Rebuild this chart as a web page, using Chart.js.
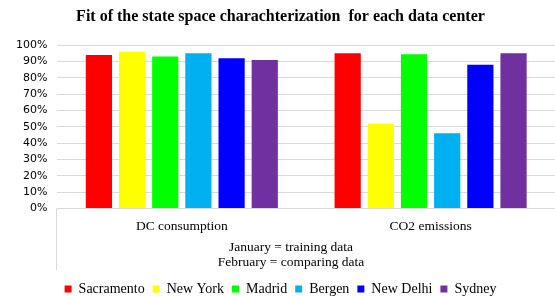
<!DOCTYPE html>
<html>
<head>
<meta charset="utf-8">
<script src="https://cdn.jsdelivr.net/npm/chart.js@4/dist/chart.umd.min.js"></script>
<style>
    html, body { margin:0; padding:0; background:#fff; }
    #wrap { width:555px; height:296px; position:relative; }
</style>
</head>
<body>
<div id="wrap"><canvas id="id_chart"></canvas></div>
<script>
// data
var CATEGORIES = ["DC consumption", "CO2 emissions"];
var CITIES = ["Sacramento", "New York", "Madrid", "Bergen", "New Delhi", "Sydney"];
var SACRAMENTO = [0.94, 0.95];
var NEW_YORK   = [0.96, 0.52];
var MADRID     = [0.93, 0.945];
var BERGEN     = [0.95, 0.46];
var NEW_DELHI  = [0.92, 0.88];
var SYDNEY     = [0.91, 0.95];
var Y_TICKS = [0, 0.1, 0.2, 0.3, 0.4, 0.5, 0.6, 0.7, 0.8, 0.9, 1.0];
var CAPTION = ["January = training data", "February = comparing data"];

var COLORS = ["#ff0000", "#ffff00", "#00ff00", "#00b0f0", "#0000ff", "#7030a0"];
var SERIF = "'Liberation Serif', 'Times New Roman', serif";

var _makeDatasets = function(){
    var values = [SACRAMENTO, NEW_YORK, MADRID, BERGEN, NEW_DELHI, SYDNEY];
    var list = [], n;
    for( n=0; n<CITIES.length; n++ ){
        list.push({
            label : CITIES[n],
            data : values[n],
            backgroundColor : COLORS[n],
            borderWidth : 0,
            barPercentage : 0.79,
            categoryPercentage : 0.8
        });
    }
    return list;
};

// excel style: small vertical line at left under the axis + caption under the labels
var axisExtras = {
    id : "axisExtras",
    afterDraw : function(chart){
        var ctx = chart.ctx;
        var area = chart.chartArea;
        ctx.save();
        ctx.strokeStyle = "#d9d9d9";
        ctx.lineWidth = 1;
        ctx.beginPath();
        ctx.moveTo(Math.round(area.left) - 0.5, area.bottom);
        ctx.lineTo(Math.round(area.left) - 0.5, 270);
        ctx.stroke();
        ctx.fillStyle = "#000";
        ctx.font = "13.5px " + SERIF;
        ctx.textAlign = "center";
        ctx.textBaseline = "middle";
        ctx.fillText(CAPTION[0], 291, 247);
        ctx.fillText(CAPTION[1], 291, 262);
        ctx.restore();
    }
};

window.onload = function(){
    var ctx = document.getElementById("id_chart").getContext("2d");
    new Chart(ctx, {
        type : "bar",
        data : {
            labels : CATEGORIES,
            datasets : _makeDatasets()
        },
        plugins : [axisExtras],
        options : {
            responsive : true,
            maintainAspectRatio : false,
            animation : false,
            layout : { padding : { left : 6, right : 0, top : 0, bottom : -10 } },
            plugins : {
                title : {
                    display : true,
                    text : "Fit of the state space charachterization  for each data center",
                    color : "#000",
                    font : { family : SERIF, size : 16, weight : "bold" },
                    padding : { top : 7, bottom : 19 }
                },
                legend : {
                    position : "bottom",
                    labels : {
                        boxWidth : 7,
                        boxHeight : 7,
                        padding : 8,
                        color : "#000",
                        font : { family : SERIF, size : 14 }
                    }
                },
                tooltip : { enabled : false }
            },
            scales : {
                x : {
                    grid : { display : false },
                    border : { display : false },
                    ticks : {
                        autoSkip : false,
                        maxRotation : 0,
                        color : "#000",
                        font : { family : SERIF, size : 13.5 },
                        padding : 2
                    },
                    title : {
                        display : true,
                        text : " ",
                        font : { size : 12 },
                        padding : { top : 9, bottom : 14 }
                    }
                },
                y : {
                    min : 0,
                    max : 1,
                    afterBuildTicks : function(scale){
                        scale.ticks = Y_TICKS.map(function(v){ return { value : v }; });
                    },
                    grid : { color : "#d9d9d9", drawTicks : false },
                    border : { display : false },
                    ticks : {
                        autoSkip : false,
                        color : "#000",
                        padding : 10,
                        font : { family : "'DejaVu Sans', sans-serif", size : 11 },
                        callback : function(v){ return Math.round(v * 100) + "%"; }
                    }
                }
            }
        }
    });
};
</script>
</body>
</html>
